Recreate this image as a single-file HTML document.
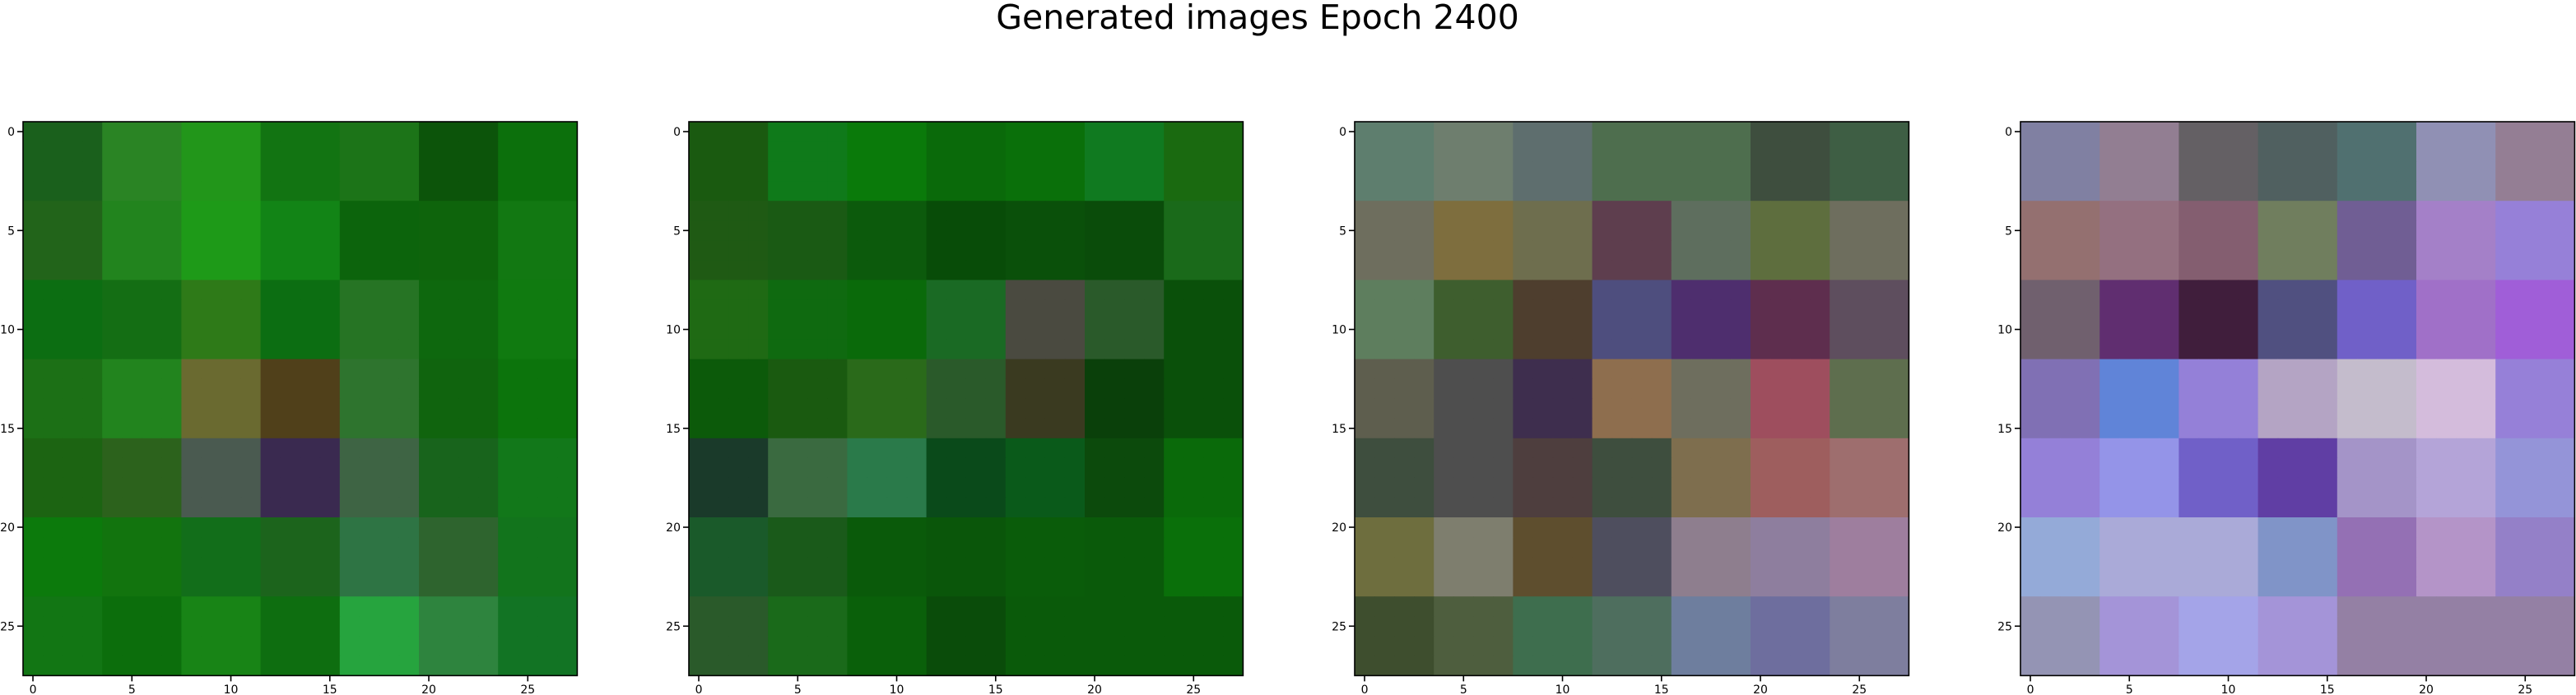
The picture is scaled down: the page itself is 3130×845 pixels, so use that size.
<!DOCTYPE html>
<html><head><meta charset="utf-8"><style>
html,body{margin:0;padding:0;background:#fff;}
svg{display:block;}
text{font-family:"DejaVu Sans","Liberation Sans",sans-serif;fill:#000;}
</style></head>
<body>
<svg id="fig" width="3130" height="845" viewBox="0 0 3130 845" xmlns="http://www.w3.org/2000/svg">
<rect width="3130" height="845" fill="#fff"/>
<text x="1528" y="35" font-size="41" text-anchor="middle">Generated images Epoch 2400</text>
</svg>
<script>
const tickValues = [0, 5, 10, 15, 20, 25];
const gridSize = 28;
const blockSize = 4;
const panel1 = [
 ["#1a601c","#2a8424","#22961a","#127412","#1c7418","#0c540a","#0c700c"],
 ["#22641a","#22841e","#1e9a18","#128416","#0c640c","#0e640c","#127812"],
 ["#0c6e12","#146e14","#2e7a18","#0c6e12","#267424","#0e680e","#107a10"],
 ["#1c7016","#22841e","#6a6a30","#50401a","#2e742e","#10640e","#0c740c"],
 ["#1c6412","#2c621c","#4a5a50","#3a2a50","#3e6444","#18641c","#12781a"],
 ["#0c7a0c","#12740e","#126e1a","#1c641c","#2e7444","#2e642e","#12741c"],
 ["#127614","#0c6e0c","#188416","#0e6e10","#26a43e","#2e843e","#127424"]
];
const panel2 = [
 ["#1a5a10","#0f7a1a","#0a7a0a","#0a6a0a","#0a700a","#107a20","#1a6a10"],
 ["#1f5a14","#1a5a14","#0c5a0c","#084c08","#0a500a","#0a4c0a","#1a6a1a"],
 ["#1f6a14","#0f6a10","#0a6a0a","#1a6a24","#4a4a40","#2a5a2a","#0a500a"],
 ["#0c5a0a","#1a5a10","#2a6a1a","#2a5a2a","#3a3a20","#0a400a","#0a500a"],
 ["#1a3a2a","#3a6a40","#2a7a4a","#0a4a1a","#0a5a1a","#0c4a0c","#0a6a0a"],
 ["#1a5a2a","#1a5a1a","#0a5a0a","#0a560a","#0a5c0a","#0a5a0a","#0a700a"],
 ["#2a5a2a","#1a6a1a","#0a600a","#0a4c0a","#0a5a0a","#0a5a0a","#0a5a0a"]
];
const panel3 = [
 ["#5e7e6e","#6e7e6e","#5e6e6e","#4e6e4e","#4e6e4e","#3e4e3e","#3e5e44"],
 ["#6e6e5e","#7e6e3e","#6e6e4e","#5e3e4e","#5e6e5e","#5e6e3e","#6e6e5e"],
 ["#5e7e5e","#3e5e2e","#4e3e2e","#4e4e7e","#4e2e6e","#5e2e4e","#5e4e5e"],
 ["#5e5e4e","#4e4e4e","#3e2e4e","#8e6e4e","#6e6e5e","#9e4e5e","#5e6e4e"],
 ["#3e4e3e","#4e4e4e","#4e3e3e","#3e4e3e","#7e6e4e","#9e5e5e","#9e6e6e"],
 ["#6e6e3e","#7e7e6e","#5e4e2e","#4e4e5e","#8e7e8e","#8e7e9e","#9e7e9e"],
 ["#3e4e2e","#4e5e3e","#3e6e4e","#4e6e5e","#6e7e9e","#6e6e9e","#7e7e9e"]
];
const panel4 = [
 ["#8080a2","#927e92","#646064","#506060","#507070","#9090b4","#947e94"],
 ["#947070","#947080","#845e70","#707e5e","#705e94","#a480c8","#9680d8"],
 ["#70606e","#602e70","#401e3c","#505080","#7060c8","#a070c8","#a05ed8"],
 ["#8070b4","#6084d8","#9480d8","#b4a4c4","#c4bccc","#d4bcdc","#9680d8"],
 ["#9480d8","#9494e8","#7060c8","#603ea4","#a494c8","#b4a4d8","#9494d8"],
 ["#94aad8","#aaaad8","#aaaad8","#8094c8","#9470b4","#b494c8","#9480c8"],
 ["#9494b4","#a494d8","#a4a4e8","#a494d8","#9480a4","#9480a4","#9480a4"]
];
const panels = [panel1, panel2, panel3, panel4];

const NS = "http://www.w3.org/2000/svg";
const svg = document.getElementById("fig");
const panelLefts = [28, 837, 1646, 2455];
const top0 = 148, cell = 24.05;
function mk(tag, attrs){ const e=document.createElementNS(NS,tag); for(const k in attrs) e.setAttribute(k,attrs[k]); return e; }
function xScale(left, v){ return left + (v + 0.5) * cell; }
function yScale(v){ return top0 + (v + 0.5) * cell; }

panels.forEach((data, p) => {
  const left = panelLefts[p];
  const g = mk("g", {});
  
  
  svg.appendChild(g);
  for (let r = 0; r < gridSize; r++) {
    for (let c = 0; c < gridSize; c++) {
      const color = data[Math.floor(r / blockSize)][Math.floor(c / blockSize)];
      const rect = mk("rect", {x: xScale(left, c) - cell/2, y: yScale(r) - cell/2, width: cell + 0.6, height: cell + 0.6, fill: color});
      
      
      g.appendChild(rect);
    }
  }
  const frame = mk("rect", {x: left, y: top0, width: cell*gridSize, height: cell*gridSize, fill: "none", stroke: "#000", "stroke-width": 1.6});
  
  
  g.appendChild(frame);
  const bottom = top0 + cell*gridSize;
  tickValues.forEach(t => {
    const x = xScale(left, t);
    const tk = mk("line", {x1: x, x2: x, y1: bottom, y2: bottom + 7, stroke: "#000", "stroke-width": 1.6});
    
    
    g.appendChild(tk);
    const lb = mk("text", {x: x, y: 843, "font-size": 14, "text-anchor": "middle"});
    lb.textContent = String(t);
    
    
    g.appendChild(lb);
    const y = yScale(t);
    const tk2 = mk("line", {x1: left - 7, x2: left, y1: y, y2: y, stroke: "#000", "stroke-width": 1.6});
    
    
    g.appendChild(tk2);
    const lb2 = mk("text", {x: left - 10, y: y + 5, "font-size": 14, "text-anchor": "end"});
    lb2.textContent = String(t);
    
    
    g.appendChild(lb2);
  });
});
</script>
</body></html>
